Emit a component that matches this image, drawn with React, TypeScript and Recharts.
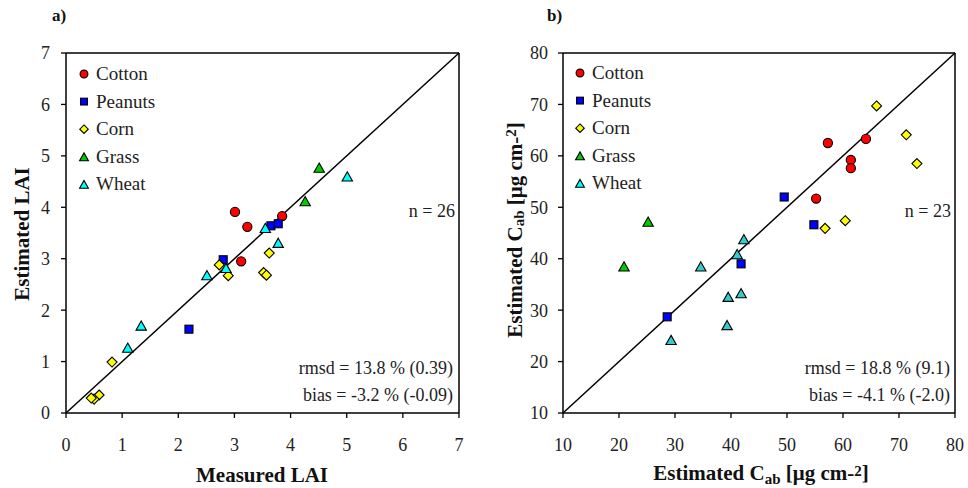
import React from 'react';
import { ScatterChart, Scatter, XAxis, YAxis, ReferenceLine } from 'recharts';

const FONT = '"Liberation Serif", "Times New Roman", serif';

// legend order / series names
const crops = ['Cotton', 'Peanuts', 'Corn', 'Grass', 'Wheat'];

// a) LAI, measured (x) vs estimated (y)
const laiTicks = [0, 1, 2, 3, 4, 5, 6, 7];
const laiCotton = [
  { x: 3.01, y: 3.91 }, { x: 3.23, y: 3.62 }, { x: 3.85, y: 3.83 }, { x: 3.12, y: 2.95 },
];
const laiPeanuts = [
  { x: 3.65, y: 3.64 }, { x: 3.78, y: 3.68 }, { x: 2.8, y: 2.98 }, { x: 2.19, y: 1.63 },
];
const laiCorn = [
  { x: 3.62, y: 3.11 }, { x: 3.52, y: 2.73 }, { x: 3.57, y: 2.68 }, { x: 2.73, y: 2.88 },
  { x: 2.89, y: 2.67 }, { x: 0.82, y: 0.99 }, { x: 0.59, y: 0.35 }, { x: 0.5, y: 0.27 },
  { x: 0.45, y: 0.29 },
];
const laiGrass = [{ x: 4.51, y: 4.77 }, { x: 4.26, y: 4.12 }];
const laiWheat = [
  { x: 5.01, y: 4.6 }, { x: 3.55, y: 3.6 }, { x: 3.78, y: 3.31 }, { x: 2.85, y: 2.82 },
  { x: 2.51, y: 2.68 }, { x: 1.34, y: 1.7 }, { x: 1.1, y: 1.27 },
];

// b) Cab
const cabTicks = [10, 20, 30, 40, 50, 60, 70, 80];
const cabCotton = [
  { x: 57.3, y: 62.5 }, { x: 64.1, y: 63.3 }, { x: 61.4, y: 59.2 }, { x: 61.4, y: 57.6 },
  { x: 55.2, y: 51.7 },
];
const cabPeanuts = [
  { x: 49.5, y: 52.0 }, { x: 54.8, y: 46.6 }, { x: 41.8, y: 39.0 }, { x: 28.6, y: 28.7 },
];
const cabCorn = [
  { x: 66.0, y: 69.7 }, { x: 71.3, y: 64.1 }, { x: 73.2, y: 58.5 }, { x: 60.4, y: 47.4 },
  { x: 56.8, y: 45.9 },
];
const cabGrass = [{ x: 25.2, y: 47.2 }, { x: 20.9, y: 38.5 }];
const cabWheat = [
  { x: 42.3, y: 43.8 }, { x: 41.1, y: 40.9 }, { x: 34.6, y: 38.5 }, { x: 39.5, y: 32.6 },
  { x: 41.8, y: 33.3 }, { x: 39.3, y: 27.1 }, { x: 29.3, y: 24.2 },
];

type Kind = 'circle' | 'square' | 'diamond' | 'triangle';

const Marker = ({ kind, cx, cy, fill, s = 1 }: { kind: Kind; cx: number; cy: number; fill: string; s?: number }) => {
  const common = { fill, stroke: '#000', strokeWidth: 1.1 };
  if (kind === 'circle') return <circle cx={cx} cy={cy} r={4.6 * s} {...common} />;
  if (kind === 'square') return <rect x={cx - 4 * s} y={cy - 4 * s} width={8 * s} height={8 * s} {...common} />;
  if (kind === 'diamond') {
    const d = 5 * s;
    return <polygon points={`${cx},${cy - d} ${cx + d},${cy} ${cx},${cy + d} ${cx - d},${cy}`} {...common} />;
  }
  const w = 5.2 * s;
  const h = 4.6 * s;
  return <polygon points={`${cx},${cy - h} ${cx + w},${cy + h} ${cx - w},${cy + h}`} {...common} />;
};

const kinds: Kind[] = ['circle', 'square', 'diamond', 'triangle', 'triangle'];
const legendColors = ['#ff0000', '#0000ff', '#ffff00', '#00cc00', '#00ffff'];

const shapeFor = (kind: Kind, fill: string) => (p: any) => <Marker kind={kind} cx={p.cx} cy={p.cy} fill={fill} />;

const Legend = ({ x, y }: { x: number; y: number }) => (
  <g>
    {crops.map((c, i) => (
      <g key={c}>
        <Marker kind={kinds[i]} cx={x} cy={y + i * 27.6} fill={legendColors[i]} s={0.85} />
        <text x={x + 12} y={y + i * 27.6 + 6} fontSize={19} fontFamily={FONT} fill="#222">{c}</text>
      </g>
    ))}
  </g>
);

const tickStyle = { fill: '#222', fontSize: 18, fontFamily: FONT };
const axisLine = { stroke: '#000', strokeWidth: 1.5 };
const tickLine = { stroke: '#000', strokeWidth: 1.3 };

const Panel = ({
  sets, colors, ticks, domain, marginLeft, marginRight, yTickMargin,
}: {
  sets: { x: number; y: number }[][]; colors: string[]; ticks: number[]; domain: [number, number];
  marginLeft: number; marginRight: number; yTickMargin: number;
}) => (
  <ScatterChart width={484} height={488} margin={{ top: 53, right: marginRight, bottom: 45, left: marginLeft }}>
    <XAxis type="number" dataKey="x" domain={domain} ticks={ticks} interval={0} height={30}
      tick={tickStyle} tickSize={5} tickMargin={20} axisLine={axisLine} tickLine={tickLine} />
    <YAxis type="number" dataKey="y" domain={domain} ticks={ticks} interval={0} width={40}
      tick={tickStyle} tickSize={5} tickMargin={yTickMargin} axisLine={axisLine} tickLine={tickLine} />
    <ReferenceLine y={domain[1]} stroke="#000" strokeWidth={1.5} />
    <ReferenceLine x={domain[1]} stroke="#000" strokeWidth={1.5} />
    <ReferenceLine segment={[{ x: domain[0], y: domain[0] }, { x: domain[1], y: domain[1] }]} stroke="#000" strokeWidth={1.5} />
    {sets.map((d, i) => (
      <Scatter key={crops[i]} name={crops[i]} data={d} isAnimationActive={false} shape={shapeFor(kinds[i], colors[i])} />
    ))}
  </ScatterChart>
);

const boldTitle = { fontFamily: FONT, fontWeight: 700, fontSize: 21, fill: '#111' };
const statStyle = { fontFamily: FONT, fontSize: 18, fill: '#222' };

const CabTitle = () => (
  <>
    Estimated C<tspan fontSize={15} dy={4}>ab</tspan>
    <tspan dy={-4}> [μg cm-</tspan>
    <tspan fontSize={15} dy={-4}>2</tspan>
    <tspan dy={4}>]</tspan>
  </>
);

export default function App() {
  return (
    <div style={{ position: 'absolute', left: 0, top: 0, width: 968, height: 488, background: '#fff' }}>
      <div style={{ position: 'absolute', left: 0, top: 0, width: 484, height: 488 }}>
        <Panel sets={[laiCotton, laiPeanuts, laiCorn, laiGrass, laiWheat]} colors={legendColors}
          ticks={laiTicks} domain={[0, 7]} marginLeft={26} marginRight={25} yTickMargin={11} />
        <svg width={484} height={488} style={{ position: 'absolute', left: 0, top: 0, pointerEvents: 'none' }}>
          <text x={52} y={21} fontFamily={FONT} fontWeight={700} fontSize={17} fill="#111">a)</text>
          <text x={22} y={234} textAnchor="middle" dominantBaseline="central" transform="rotate(-90 22 234)" {...boldTitle}>Estimated LAI</text>
          <text x={262} y={482} textAnchor="middle" {...boldTitle}>Measured LAI</text>
          <Legend x={84} y={74} />
          <text x={455} y={217} textAnchor="end" {...statStyle}>n = 26</text>
          <text x={453} y={374} textAnchor="end" {...statStyle}>rmsd = 13.8 % (0.39)</text>
          <text x={453} y={401} textAnchor="end" {...statStyle}>bias = -3.2 % (-0.09)</text>
        </svg>
      </div>
      <div style={{ position: 'absolute', left: 484, top: 0, width: 484, height: 488 }}>
        <Panel sets={[cabCotton, cabPeanuts, cabCorn, cabGrass, cabWheat]}
          colors={['#ff0000', '#0000ff', '#ffff00', '#00cc00', '#33cccc']}
          ticks={cabTicks} domain={[10, 80]} marginLeft={39} marginRight={13} yTickMargin={10} />
        <svg width={484} height={488} style={{ position: 'absolute', left: 0, top: 0, pointerEvents: 'none' }}>
          <text x={63} y={21} fontFamily={FONT} fontWeight={700} fontSize={17} fill="#111">b)</text>
          <text x={31} y={230} textAnchor="middle" dominantBaseline="central" transform="rotate(-90 31 230)" {...boldTitle}><CabTitle /></text>
          <text x={277} y={480} textAnchor="middle" {...boldTitle}><CabTitle /></text>
          <Legend x={96} y={73} />
          <text x={467} y={217} textAnchor="end" {...statStyle}>n = 23</text>
          <text x={466} y={374} textAnchor="end" {...statStyle}>rmsd = 18.8 % (9.1)</text>
          <text x={466} y={401} textAnchor="end" {...statStyle}>bias = -4.1 % (-2.0)</text>
        </svg>
      </div>
    </div>
  );
}
